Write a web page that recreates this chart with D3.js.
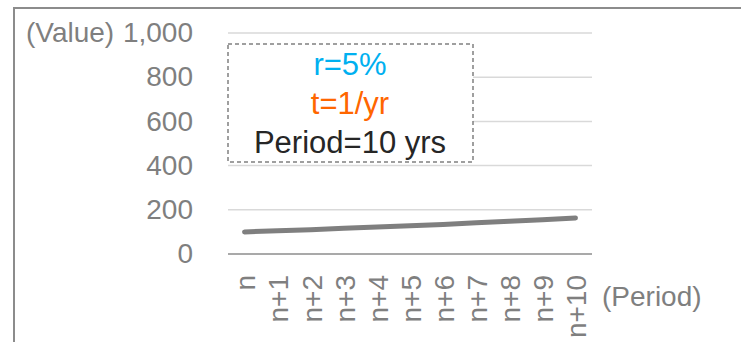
<!DOCTYPE html>
<html>
<head>
<meta charset="utf-8">
<script src="https://cdnjs.cloudflare.com/ajax/libs/d3/7.8.5/d3.min.js"></script>
<style>
  body { margin: 0; background: #fff; }
  svg text { font-family: "Liberation Sans", Arial, sans-serif; }
</style>
</head>
<body>
<div id="chart"></div>
<script>
// categories and values (compound value per period)
const periods = ["n", "n+1", "n+2", "n+3", "n+4", "n+5", "n+6", "n+7", "n+8", "n+9", "n+10"];
const values = [100, 105, 110, 116, 122, 128, 134, 141, 148, 155, 163];
const yTicks = [0, 200, 400, 600, 800, 1000];
const noteLines = ["r=5%", "t=1/yr", "Period=10 yrs"];
const noteColors = ["#00b0f0", "#ff6600", "#262626"];

const W = 741, H = 342;
const plot = { left: 228, right: 592, top: 33, bottom: 254 };

const svg = d3.select("#chart").append("svg")
    .attr("width", W)
    .attr("height", H);

//outer frame (cut by the window on right and bottom)
svg.append("rect")
    .attr("x", 14)
    .attr("y", 8)
    .attr("width", W)
    .attr("height", H)
    .style("fill", "none")
    .style("stroke", "#8c8c8c")
    .style("stroke-width", 2);

const x = d3.scaleBand()
    .domain(periods)
    .range([plot.left, plot.right]);

const y = d3.scaleLinear()
    .domain([0, 1000])
    .range([plot.bottom, plot.top]);

//gridlines
svg.selectAll(".grid").data(yTicks.filter(d => d > 0))
    .enter()
    .append("line")
    .attr("x1", plot.left)
    .attr("x2", plot.right)
    .attr("y1", d => y(d))
    .attr("y2", d => y(d))
    .style("stroke", "#d9d9d9")
    .style("stroke-width", 1.5);

//y tick labels
svg.selectAll(".ytick").data(yTicks)
    .enter()
    .append("text")
    .attr("x", 193)
    .attr("y", d => y(d))
    .attr("dy", "0.33em")
    .style("text-anchor", "end")
    .style("font-size", "28px")
    .style("fill", "#7f7f7f")
    .text(d => d3.format(",")(d));

svg.append("text")
    .attr("x", 26)
    .attr("y", y(1000))
    .attr("dy", "0.33em")
    .style("font-size", "28px")
    .style("fill", "#7f7f7f")
    .text("(Value)");

//x axis line
svg.append("line")
    .attr("x1", plot.left)
    .attr("x2", plot.right)
    .attr("y1", y(0))
    .attr("y2", y(0))
    .style("stroke", "#8c8c8c")
    .style("stroke-width", 1.5);

//x tick labels, rotated
svg.selectAll(".xtick").data(periods)
    .enter()
    .append("text")
    .attr("transform", d => "translate(" + (x(d) + x.bandwidth() / 2 + 1) + ",275) rotate(-90)")
    .attr("dy", "0.35em")
    .style("text-anchor", "end")
    .style("font-size", "28px")
    .style("fill", "#7f7f7f")
    .text(d => d);

svg.append("text")
    .attr("x", 602)
    .attr("y", 306)
    .style("font-size", "28px")
    .style("fill", "#7f7f7f")
    .text("(Period)");

//note box
svg.append("rect")
    .attr("x", 228)
    .attr("y", 44)
    .attr("width", 245)
    .attr("height", 118)
    .style("fill", "#fff")
    .style("stroke", "#808080")
    .style("stroke-width", 1.5)
    .style("stroke-dasharray", "4,3");

svg.selectAll(".note").data(noteLines)
    .enter()
    .append("text")
    .attr("x", 350)
    .attr("y", (d, i) => 75 + i * 39)
    .style("text-anchor", "middle")
    .style("font-size", "31px")
    .style("fill", (d, i) => noteColors[i])
    .text(d => d);

//value line
const line = d3.line()
    .x((d, i) => x(periods[i]) + x.bandwidth() / 2)
    .y(d => y(d));

svg.append("path")
    .datum(values)
    .attr("d", line)
    .style("fill", "none")
    .style("stroke", "#7f7f7f")
    .style("stroke-width", 5)
    .style("stroke-linecap", "round");
</script>
</body>
</html>
